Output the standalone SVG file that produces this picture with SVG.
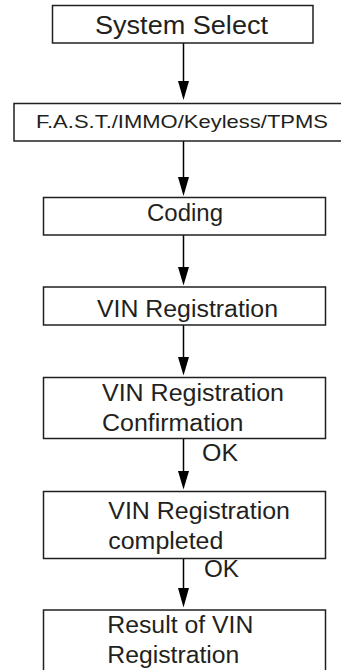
<svg xmlns="http://www.w3.org/2000/svg" width="341" height="670" viewBox="0 0 341 670">
<style>
.box{fill:#fff;stroke:#231f20;stroke-width:1.5}
.t{font-family:"Liberation Sans",Arial,sans-serif;font-size:23px;fill:#231f20}
.c{stroke:#000;stroke-width:1.5;fill:none}
.ah{fill:#000}
</style>
<rect width="341" height="670" fill="#fff"/>
<g id="connectors">
<line class="c" x1="183.5" y1="43" x2="183.5" y2="82" />
<path class="ah" d="M178,81 L189,81 L183.5,100 Z"/>
<line class="c" x1="183.5" y1="141" x2="183.5" y2="178" />
<path class="ah" d="M178,177 L189,177 L183.5,196 Z"/>
<line class="c" x1="183.5" y1="235" x2="183.5" y2="268" />
<path class="ah" d="M178,267 L189,267 L183.5,285.5 Z"/>
<line class="c" x1="183.5" y1="325" x2="183.5" y2="358" />
<path class="ah" d="M178,357 L189,357 L183.5,375.5 Z"/>
<line class="c" x1="183.5" y1="438.5" x2="183.5" y2="472" />
<path class="ah" d="M178,471 L189,471 L183.5,489.5 Z"/>
<line class="c" x1="183.5" y1="558.5" x2="183.5" y2="589" />
<path class="ah" d="M178,588 L189,588 L183.5,607.5 Z"/>
<text class="t" x="202" y="460.7" textLength="36" lengthAdjust="spacingAndGlyphs">OK</text>
<text class="t" x="204" y="576.7" textLength="35" lengthAdjust="spacingAndGlyphs">OK</text>
</g>
<g id="n1">
<rect class="box" x="52.5" y="5.5" width="260.5" height="37.5"/>
<text class="t" x="95" y="33.5" style="font-size:25px" textLength="173" lengthAdjust="spacingAndGlyphs">System Select</text>
</g>
<g id="n2">
<rect class="box" x="14" y="103.5" width="330" height="37.5"/>
<text class="t" x="36" y="128" style="font-size:18.5px" textLength="292" lengthAdjust="spacingAndGlyphs">F.A.S.T./IMMO/Keyless/TPMS</text>
</g>
<g id="n3">
<rect class="box" x="43.5" y="197.5" width="282" height="37.5"/>
<text class="t" x="147" y="221" textLength="76" lengthAdjust="spacingAndGlyphs">Coding</text>
</g>
<g id="n4">
<rect class="box" x="43.5" y="287" width="282" height="38"/>
<text class="t" x="97" y="316.7" textLength="181" lengthAdjust="spacingAndGlyphs">VIN Registration</text>
</g>
<g id="n5">
<rect class="box" x="43.5" y="377.5" width="282" height="61"/>
<text class="t" x="102" y="401" textLength="182" lengthAdjust="spacingAndGlyphs">VIN Registration</text>
<text class="t" x="102" y="430.7" textLength="141.5" lengthAdjust="spacingAndGlyphs">Confirmation</text>
</g>
<g id="n6">
<rect class="box" x="43.5" y="491.5" width="282" height="67"/>
<text class="t" x="108.3" y="519.3" textLength="181.7" lengthAdjust="spacingAndGlyphs">VIN Registration</text>
<text class="t" x="108.3" y="549.3" textLength="115" lengthAdjust="spacingAndGlyphs">completed</text>
</g>
<g id="n7">
<rect class="box" x="43.5" y="610" width="282" height="70"/>
<text class="t" x="107.3" y="633.3" textLength="146" lengthAdjust="spacingAndGlyphs">Result of VIN</text>
<text class="t" x="107.3" y="662.7" textLength="132" lengthAdjust="spacingAndGlyphs">Registration</text>
</g>
</svg>
